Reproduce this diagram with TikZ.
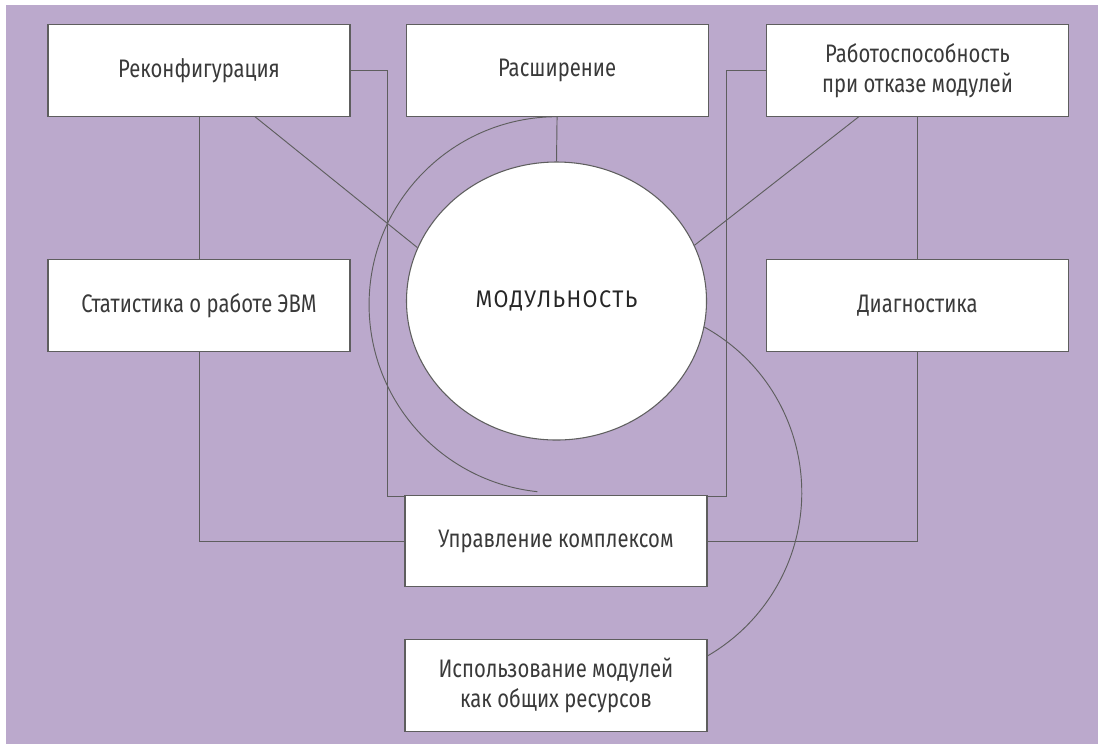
\documentclass[tikz,border=0pt]{standalone}
\usepackage{fontspec}
\setmainfont{Fira Sans}[FakeStretch=0.8]
\newfontfamily\modfont{Fira Sans}[LetterSpace=6, FakeStretch=0.9]
\usetikzlibrary{positioning, shapes.geometric, backgrounds}
\definecolor{lilac}{HTML}{BBA9CC}
\definecolor{edge}{HTML}{5E5E5E}
\definecolor{ink}{HTML}{3A3A3A}

\begin{document}
\begin{tikzpicture}[
    x=0.75pt, y=-0.75pt,
    box/.style={draw=edge, line width=0.8pt, fill=white, minimum width=226.5pt, minimum height=68.5pt,
                inner sep=0pt, align=center, text=ink, font=\fontsize{19}{22.5}\selectfont},
    core/.style={ellipse, draw=edge, line width=0.8pt, fill=white, minimum width=225pt, minimum height=208.5pt,
                 inner sep=0pt, text=black!85, font=\modfont\fontsize{18}{20}\selectfont},
    link/.style={draw=edge, line width=0.7pt}
  ]
  \useasboundingbox (0,0) rectangle (1098,744);

%% top row of properties
  \node[box] (R) at (199,70.5) {Реконфигурация};
  \node[box, right=41.25pt of R] (E) {Расширение};
  \node[box, right=43pt of E] (W) {Работоспособность\\при отказе модулей};

%% second row, hung under the outer boxes
  \node[box, below=107pt of R] (S) {Статистика о работе ЭВМ};
  \node[box, below=107pt of W] (D) {Диагностика};

%% the central notion
  \node[core] (M) at (556.5,301) {МОДУЛЬНОСТЬ};

%% bottom boxes
  \node[box] (C) at (556,541) {Управление комплексом};
  \node[box, below=39pt of C] (U) {Использование модулей\\как общих ресурсов};

  \begin{scope}[on background layer]
    \fill[lilac] (6,5) rectangle (1098,744);

    %% frame that runs behind the centre
    \draw[link] (R.east) -| (387,496) -| (726,70.5) -- (W.west);

    \draw[link] (R.south) -- (S.north);
    \draw[link] (S.south) |- (C.west);
    \draw[link] (W.south) -- (D.north);
    \draw[link] (D.south) |- (C.east);
    \draw[link] (E.south) -- (M.north);
    \draw[link] ([xshift=42pt]R.south) -- (M.159);
    \draw[link] ([xshift=-44pt]W.south) -- (M.22);

    %% the two arcs
    \draw[link] (E.south) arc[start angle=90, end angle=264, radius=141pt];
    \draw[link] (M.-10) arc[start angle=61, end angle=-60, radius=141.75pt];
  \end{scope}

\end{tikzpicture}
\end{document}
